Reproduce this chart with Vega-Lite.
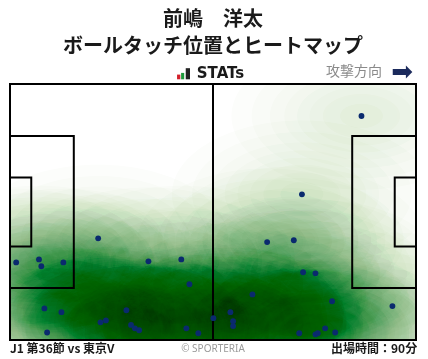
{
  "$schema": "https://vega.github.io/schema/vega-lite/v6.json",
  "width": 406,
  "height": 256,
  "autosize": "none",
  "padding": {"left": 10, "top": 84, "right": 12, "bottom": 19},
  "background": "white",
  "config": {"view": {"stroke": null}},
  "data": {"values": [{"one": 1}]},
  "datasets": {
    "touches": [
      {"x": 90.9, "y": 59.5}, {"x": 75.5, "y": 38.7}, {"x": 22.8, "y": 27.0}, {"x": 1.6, "y": 20.6},
      {"x": 7.5, "y": 21.4}, {"x": 8.1, "y": 19.6}, {"x": 13.8, "y": 20.6}, {"x": 35.8, "y": 20.9},
      {"x": 44.3, "y": 21.4}, {"x": 46.4, "y": 14.8}, {"x": 8.9, "y": 8.4}, {"x": 13.3, "y": 7.4},
      {"x": 30.1, "y": 7.9}, {"x": 23.4, "y": 4.7}, {"x": 24.8, "y": 5.2}, {"x": 31.3, "y": 4.0},
      {"x": 32.3, "y": 3.1}, {"x": 33.4, "y": 2.6}, {"x": 9.6, "y": 2.0}, {"x": 45.6, "y": 3.1},
      {"x": 48.7, "y": 1.8}, {"x": 52.6, "y": 5.8}, {"x": 66.5, "y": 26.0}, {"x": 73.4, "y": 26.5},
      {"x": 75.8, "y": 18.0}, {"x": 79.0, "y": 17.7}, {"x": 62.7, "y": 12.1}, {"x": 83.3, "y": 10.3},
      {"x": 98.9, "y": 9.0}, {"x": 57.0, "y": 7.4}, {"x": 57.7, "y": 5.0}, {"x": 57.7, "y": 3.7},
      {"x": 74.8, "y": 1.8}, {"x": 79.0, "y": 1.5}, {"x": 79.6, "y": 1.8}, {"x": 81.5, "y": 3.1},
      {"x": 84.1, "y": 2.0}
    ],
    "pitch": [
      {"x1": 0, "x2": 105, "y1": 0, "y2": 68},
      {"x1": 52.5, "x2": 52.5, "y1": 0, "y2": 68},
      {"x1": 0, "x2": 16.5, "y1": 13.84, "y2": 54.16},
      {"x1": 0, "x2": 5.5, "y1": 24.84, "y2": 43.16},
      {"x1": 88.5, "x2": 105, "y1": 13.84, "y2": 54.16},
      {"x1": 99.5, "x2": 105, "y1": 24.84, "y2": 43.16}
    ]
  },
  "layer": [
    {"data": {"name": "touches"}, "mark": {"type": "point", "shape": "M-1 0C-1 -0.3132 -0.5523 -0.567 0 -0.567C0.5523 -0.567 1 -0.3132 1 0C1 0.3132 0.5523 0.567 0 0.567C-0.5523 0.567 -1 0.3132 -1 0Z", "filled": true, "fill": "rgb(252,253,251)", "opacity": 1, "strokeWidth": 0, "size": 67600, "blend": "multiply"},
     "encoding": {"x": {"field": "x", "type": "quantitative", "scale": {"domain": [0, 105], "nice": false, "zero": false}, "axis": null}, "y": {"field": "y", "type": "quantitative", "scale": {"domain": [0, 68], "nice": false, "zero": false}, "axis": null}}},
    {"data": {"name": "touches"}, "mark": {"type": "point", "shape": "M-1 0C-1 -0.3132 -0.5523 -0.567 0 -0.567C0.5523 -0.567 1 -0.3132 1 0C1 0.3132 0.5523 0.567 0 0.567C-0.5523 0.567 -1 0.3132 -1 0Z", "filled": true, "fill": "rgb(252,253,251)", "opacity": 1, "strokeWidth": 0, "size": 48224, "blend": "multiply"},
     "encoding": {"x": {"field": "x", "type": "quantitative", "scale": {"domain": [0, 105], "nice": false, "zero": false}, "axis": null}, "y": {"field": "y", "type": "quantitative", "scale": {"domain": [0, 68], "nice": false, "zero": false}, "axis": null}}},
    {"data": {"name": "touches"}, "mark": {"type": "point", "shape": "M-1 0C-1 -0.3132 -0.5523 -0.567 0 -0.567C0.5523 -0.567 1 -0.3132 1 0C1 0.3132 0.5523 0.567 0 0.567C-0.5523 0.567 -1 0.3132 -1 0Z", "filled": true, "fill": "rgb(252,253,251)", "opacity": 1, "strokeWidth": 0, "size": 33489, "blend": "multiply"},
     "encoding": {"x": {"field": "x", "type": "quantitative", "scale": {"domain": [0, 105], "nice": false, "zero": false}, "axis": null}, "y": {"field": "y", "type": "quantitative", "scale": {"domain": [0, 68], "nice": false, "zero": false}, "axis": null}}},
    {"data": {"name": "touches"}, "mark": {"type": "point", "shape": "M-1 0C-1 -0.3132 -0.5523 -0.567 0 -0.567C0.5523 -0.567 1 -0.3132 1 0C1 0.3132 0.5523 0.567 0 0.567C-0.5523 0.567 -1 0.3132 -1 0Z", "filled": true, "fill": "rgb(252,253,251)", "opacity": 1, "strokeWidth": 0, "size": 23839, "blend": "multiply"},
     "encoding": {"x": {"field": "x", "type": "quantitative", "scale": {"domain": [0, 105], "nice": false, "zero": false}, "axis": null}, "y": {"field": "y", "type": "quantitative", "scale": {"domain": [0, 68], "nice": false, "zero": false}, "axis": null}}},
    {"data": {"name": "touches"}, "mark": {"type": "point", "shape": "M-1 0C-1 -0.3132 -0.5523 -0.567 0 -0.567C0.5523 -0.567 1 -0.3132 1 0C1 0.3132 0.5523 0.567 0 0.567C-0.5523 0.567 -1 0.3132 -1 0Z", "filled": true, "fill": "rgb(252,253,251)", "opacity": 1, "strokeWidth": 0, "size": 16590, "blend": "multiply"},
     "encoding": {"x": {"field": "x", "type": "quantitative", "scale": {"domain": [0, 105], "nice": false, "zero": false}, "axis": null}, "y": {"field": "y", "type": "quantitative", "scale": {"domain": [0, 68], "nice": false, "zero": false}, "axis": null}}},
    {"data": {"name": "touches"}, "mark": {"type": "point", "shape": "M-1 0C-1 -0.3132 -0.5523 -0.567 0 -0.567C0.5523 -0.567 1 -0.3132 1 0C1 0.3132 0.5523 0.567 0 0.567C-0.5523 0.567 -1 0.3132 -1 0Z", "filled": true, "fill": "rgb(252,253,251)", "opacity": 1, "strokeWidth": 0, "size": 10816, "blend": "multiply"},
     "encoding": {"x": {"field": "x", "type": "quantitative", "scale": {"domain": [0, 105], "nice": false, "zero": false}, "axis": null}, "y": {"field": "y", "type": "quantitative", "scale": {"domain": [0, 68], "nice": false, "zero": false}, "axis": null}}},
    {"data": {"name": "touches"}, "mark": {"type": "point", "shape": "M-1 0C-1 -0.3132 -0.5523 -0.567 0 -0.567C0.5523 -0.567 1 -0.3132 1 0C1 0.3132 0.5523 0.567 0 0.567C-0.5523 0.567 -1 0.3132 -1 0Z", "filled": true, "fill": "rgb(252,253,251)", "opacity": 1, "strokeWidth": 0, "size": 5960, "blend": "multiply"},
     "encoding": {"x": {"field": "x", "type": "quantitative", "scale": {"domain": [0, 105], "nice": false, "zero": false}, "axis": null}, "y": {"field": "y", "type": "quantitative", "scale": {"domain": [0, 68], "nice": false, "zero": false}, "axis": null}}},
    {"data": {"name": "touches"}, "mark": {"type": "point", "shape": "M-1 0C-1 -0.3132 -0.5523 -0.567 0 -0.567C0.5523 -0.567 1 -0.3132 1 0C1 0.3132 0.5523 0.567 0 0.567C-0.5523 0.567 -1 0.3132 -1 0Z", "filled": true, "fill": "rgb(252,253,251)", "opacity": 1, "strokeWidth": 0, "size": 1849, "blend": "multiply"},
     "encoding": {"x": {"field": "x", "type": "quantitative", "scale": {"domain": [0, 105], "nice": false, "zero": false}, "axis": null}, "y": {"field": "y", "type": "quantitative", "scale": {"domain": [0, 68], "nice": false, "zero": false}, "axis": null}}},
    {"data": {"name": "touches"}, "mark": {"type": "point", "shape": "M-1 0C-1 -0.3132 -0.5523 -0.567 0 -0.567C0.5523 -0.567 1 -0.3132 1 0C1 0.3132 0.5523 0.567 0 0.567C-0.5523 0.567 -1 0.3132 -1 0Z", "filled": true, "fill": "rgb(246,251,250)", "opacity": 1, "strokeWidth": 0, "size": 51620, "blend": "color-burn"},
     "encoding": {"x": {"field": "x", "type": "quantitative", "scale": {"domain": [0, 105], "nice": false, "zero": false}, "axis": null}, "y": {"field": "y", "type": "quantitative", "scale": {"domain": [0, 68], "nice": false, "zero": false}, "axis": null}}},
    {"data": {"name": "touches"}, "mark": {"type": "point", "shape": "M-1 0C-1 -0.3132 -0.5523 -0.567 0 -0.567C0.5523 -0.567 1 -0.3132 1 0C1 0.3132 0.5523 0.567 0 0.567C-0.5523 0.567 -1 0.3132 -1 0Z", "filled": true, "fill": "rgb(247,252,251)", "opacity": 1, "strokeWidth": 0, "size": 19937, "blend": "color-burn"},
     "encoding": {"x": {"field": "x", "type": "quantitative", "scale": {"domain": [0, 105], "nice": false, "zero": false}, "axis": null}, "y": {"field": "y", "type": "quantitative", "scale": {"domain": [0, 68], "nice": false, "zero": false}, "axis": null}}},
    {"data": {"name": "touches"}, "mark": {"type": "point", "shape": "M-1 0C-1 -0.3132 -0.5523 -0.567 0 -0.567C0.5523 -0.567 1 -0.3132 1 0C1 0.3132 0.5523 0.567 0 0.567C-0.5523 0.567 -1 0.3132 -1 0Z", "filled": true, "fill": "rgb(247,252,251)", "opacity": 1, "strokeWidth": 0, "size": 5242, "blend": "color-burn"},
     "encoding": {"x": {"field": "x", "type": "quantitative", "scale": {"domain": [0, 105], "nice": false, "zero": false}, "axis": null}, "y": {"field": "y", "type": "quantitative", "scale": {"domain": [0, 68], "nice": false, "zero": false}, "axis": null}}},
    {"mark": {"type": "rect", "fill": "white"},
     "encoding": {"x": {"datum": -40, "type": "quantitative", "scale": {"domain": [0, 105], "nice": false, "zero": false}, "axis": null}, "x2": {"datum": 0}, "y": {"datum": -40, "type": "quantitative", "scale": {"domain": [0, 68], "nice": false, "zero": false}, "axis": null}, "y2": {"datum": 110}}},
    {"mark": {"type": "rect", "fill": "white"},
     "encoding": {"x": {"datum": 105, "type": "quantitative", "scale": {"domain": [0, 105], "nice": false, "zero": false}, "axis": null}, "x2": {"datum": 145}, "y": {"datum": -40, "type": "quantitative", "scale": {"domain": [0, 68], "nice": false, "zero": false}, "axis": null}, "y2": {"datum": 110}}},
    {"mark": {"type": "rect", "fill": "white"},
     "encoding": {"x": {"datum": -40, "type": "quantitative", "scale": {"domain": [0, 105], "nice": false, "zero": false}, "axis": null}, "x2": {"datum": 145}, "y": {"datum": 68, "type": "quantitative", "scale": {"domain": [0, 68], "nice": false, "zero": false}, "axis": null}, "y2": {"datum": 110}}},
    {"mark": {"type": "rect", "fill": "white"},
     "encoding": {"x": {"datum": -40, "type": "quantitative", "scale": {"domain": [0, 105], "nice": false, "zero": false}, "axis": null}, "x2": {"datum": 145}, "y": {"datum": -40, "type": "quantitative", "scale": {"domain": [0, 68], "nice": false, "zero": false}, "axis": null}, "y2": {"datum": 0}}},
    {"data": {"name": "pitch"}, "mark": {"type": "rect", "filled": false, "stroke": "#000000", "strokeWidth": 2},
     "encoding": {"x": {"field": "x1", "type": "quantitative", "scale": {"domain": [0, 105], "nice": false, "zero": false}, "axis": null}, "x2": {"field": "x2"}, "y": {"field": "y1", "type": "quantitative", "scale": {"domain": [0, 68], "nice": false, "zero": false}, "axis": null}, "y2": {"field": "y2"}}},
    {"data": {"name": "touches"}, "mark": {"type": "circle", "color": "#0a2a6e", "opacity": 1, "size": 34},
     "encoding": {"x": {"field": "x", "type": "quantitative", "scale": {"domain": [0, 105], "nice": false, "zero": false}, "axis": null}, "y": {"field": "y", "type": "quantitative", "scale": {"domain": [0, 68], "nice": false, "zero": false}, "axis": null}}},
    {"mark": {"type": "text", "text": "前嶋　洋太", "font": "Noto Sans CJK JP", "fontSize": 20, "fontWeight": "bold", "color": "#1a1a1a", "align": "center", "baseline": "middle"},
     "encoding": {"x": {"datum": 52.5, "type": "quantitative", "scale": {"domain": [0, 105], "nice": false, "zero": false}, "axis": null}, "y": {"datum": 84.9, "type": "quantitative", "scale": {"domain": [0, 68], "nice": false, "zero": false}, "axis": null}}},
    {"mark": {"type": "text", "text": "ボールタッチ位置とヒートマップ", "font": "Noto Sans CJK JP", "fontSize": 20, "fontWeight": "bold", "color": "#1a1a1a", "align": "center", "baseline": "middle"},
     "encoding": {"x": {"datum": 52.5, "type": "quantitative", "scale": {"domain": [0, 105], "nice": false, "zero": false}, "axis": null}, "y": {"datum": 77.9, "type": "quantitative", "scale": {"domain": [0, 68], "nice": false, "zero": false}, "axis": null}}},
    {"mark": {"type": "rect", "fill": "#d3202b"},
     "encoding": {"x": {"datum": 43.2, "type": "quantitative", "scale": {"domain": [0, 105], "nice": false, "zero": false}, "axis": null}, "x2": {"datum": 44.05}, "y": {"datum": 69.25, "type": "quantitative", "scale": {"domain": [0, 68], "nice": false, "zero": false}, "axis": null}, "y2": {"datum": 70.5}}},
    {"mark": {"type": "rect", "fill": "#1d9a3c"},
     "encoding": {"x": {"datum": 44.25, "type": "quantitative", "scale": {"domain": [0, 105], "nice": false, "zero": false}, "axis": null}, "x2": {"datum": 45.05}, "y": {"datum": 69.25, "type": "quantitative", "scale": {"domain": [0, 68], "nice": false, "zero": false}, "axis": null}, "y2": {"datum": 70.95}}},
    {"mark": {"type": "rect", "fill": "#222222"},
     "encoding": {"x": {"datum": 45.45, "type": "quantitative", "scale": {"domain": [0, 105], "nice": false, "zero": false}, "axis": null}, "x2": {"datum": 46.55}, "y": {"datum": 69.25, "type": "quantitative", "scale": {"domain": [0, 68], "nice": false, "zero": false}, "axis": null}, "y2": {"datum": 72.2}}},
    {"mark": {"type": "text", "text": "STATs", "font": "DejaVu Sans", "fontSize": 15, "fontWeight": "bold", "color": "#1a1a1a", "align": "left", "baseline": "middle"},
     "encoding": {"x": {"datum": 48.3, "type": "quantitative", "scale": {"domain": [0, 105], "nice": false, "zero": false}, "axis": null}, "y": {"datum": 70.8, "type": "quantitative", "scale": {"domain": [0, 68], "nice": false, "zero": false}, "axis": null}}},
    {"mark": {"type": "text", "text": "攻撃方向", "font": "Noto Sans CJK JP", "fontSize": 14, "color": "#8a8a8a", "align": "left", "baseline": "middle"},
     "encoding": {"x": {"datum": 81.7, "type": "quantitative", "scale": {"domain": [0, 105], "nice": false, "zero": false}, "axis": null}, "y": {"datum": 71.2, "type": "quantitative", "scale": {"domain": [0, 68], "nice": false, "zero": false}, "axis": null}}},
    {"mark": {"type": "text", "text": "➡", "font": "DejaVu Sans", "fontSize": 26, "color": "#1b2a5c", "align": "center", "baseline": "middle"},
     "encoding": {"x": {"datum": 101.4, "type": "quantitative", "scale": {"domain": [0, 105], "nice": false, "zero": false}, "axis": null}, "y": {"datum": 71.2, "type": "quantitative", "scale": {"domain": [0, 68], "nice": false, "zero": false}, "axis": null}}},
    {"mark": {"type": "text", "text": "J1 第36節 vs 東京V", "font": "Noto Sans CJK JP", "fontSize": 12, "fontWeight": "bold", "color": "#1a1a1a", "align": "left", "baseline": "middle"},
     "encoding": {"x": {"datum": 0, "type": "quantitative", "scale": {"domain": [0, 105], "nice": false, "zero": false}, "axis": null}, "y": {"datum": -2.4, "type": "quantitative", "scale": {"domain": [0, 68], "nice": false, "zero": false}, "axis": null}}},
    {"mark": {"type": "text", "text": "© SPORTERIA", "font": "Noto Sans", "fontSize": 10, "color": "#9a9a9a", "align": "center", "baseline": "middle"},
     "encoding": {"x": {"datum": 52.5, "type": "quantitative", "scale": {"domain": [0, 105], "nice": false, "zero": false}, "axis": null}, "y": {"datum": -2.3, "type": "quantitative", "scale": {"domain": [0, 68], "nice": false, "zero": false}, "axis": null}}},
    {"mark": {"type": "text", "text": "出場時間：90分", "font": "Noto Sans CJK JP", "fontSize": 12, "fontWeight": "bold", "color": "#1a1a1a", "align": "right", "baseline": "middle"},
     "encoding": {"x": {"datum": 105.3, "type": "quantitative", "scale": {"domain": [0, 105], "nice": false, "zero": false}, "axis": null}, "y": {"datum": -2.4, "type": "quantitative", "scale": {"domain": [0, 68], "nice": false, "zero": false}, "axis": null}}}
  ]
}
